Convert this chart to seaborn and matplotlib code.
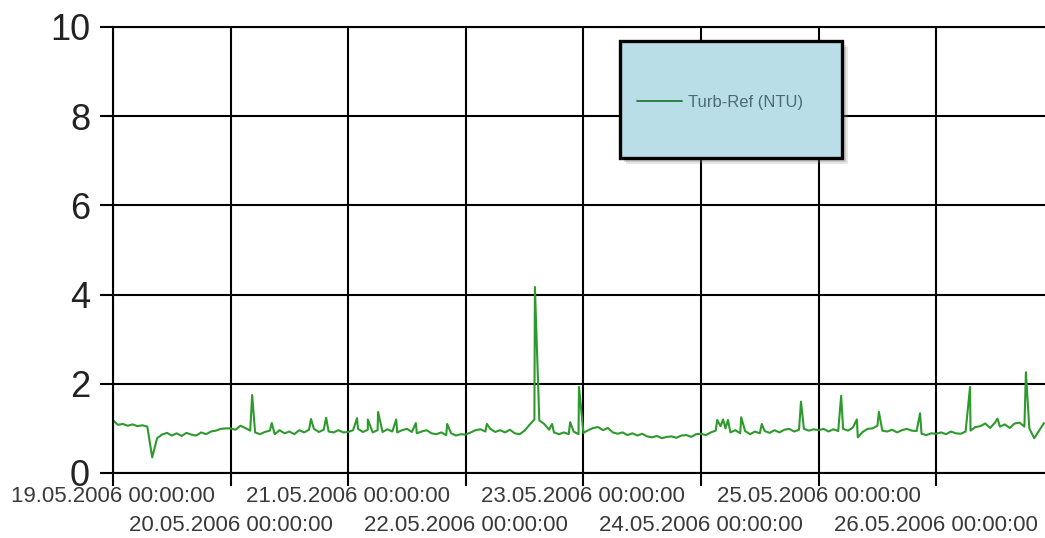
import numpy as np
import pandas as pd
import matplotlib
matplotlib.use("Agg")
import matplotlib.pyplot as plt
import matplotlib.dates as mdates
from matplotlib.patches import Rectangle
import seaborn as sns

# ---------------- data ----------------
start_time = "2006-05-19 00:00:00"
series_name = "Turb-Ref (NTU)"

# hourly base readings (NTU), hour 0 .. 190
base_day1 = [1.18, 1.08, 1.10, 1.06, 1.09, 1.05, 1.07, 1.04, 0.35, 0.78, 0.86, 0.90,
             0.84, 0.89, 0.83, 0.90, 0.86, 0.84, 0.91, 0.87, 0.93, 0.95, 0.99, 1.00]
base_day2 = [1.00, 0.97, 1.06, 1.01, 0.95, 0.91, 0.87, 0.92, 0.95, 0.87, 0.96, 0.89,
             0.93, 0.87, 0.96, 0.91, 0.97, 0.99, 0.92, 0.97, 0.93, 0.91, 0.96, 0.91]
base_day3 = [0.92, 0.96, 0.99, 0.92, 0.97, 0.91, 0.96, 0.92, 0.98, 0.93, 0.91, 0.96,
             0.99, 0.92, 0.89, 0.93, 0.96, 0.89, 0.87, 0.91, 0.85, 0.89, 0.84, 0.87]
base_day4 = [0.86, 0.91, 0.96, 0.98, 0.93, 0.99, 0.92, 0.96, 0.91, 0.97, 0.89, 0.87,
             0.95, 1.08, 1.20, 1.18, 1.10, 0.97, 0.91, 0.87, 0.91, 0.87, 0.93, 0.87]
base_day5 = [0.90, 0.96, 1.01, 1.03, 0.96, 1.01, 0.91, 0.88, 0.91, 0.85, 0.89, 0.84,
             0.88, 0.82, 0.80, 0.83, 0.78, 0.81, 0.82, 0.79, 0.84, 0.85, 0.81, 0.87]
base_day6 = [0.88, 0.85, 0.91, 0.95, 1.05, 1.00, 0.91, 0.96, 0.89, 0.94, 0.87, 0.93,
             0.89, 0.94, 0.90, 0.96, 0.91, 0.97, 0.99, 0.93, 0.97, 0.99, 0.95, 0.98]
base_day7 = [0.96, 0.99, 0.93, 0.98, 0.94, 0.99, 0.95, 1.02, 0.80, 0.92, 0.99, 1.00,
             1.06, 0.95, 0.93, 0.97, 0.91, 0.96, 0.99, 0.95, 0.94, 0.88, 0.85, 0.89]
base_day8 = [0.88, 0.91, 0.87, 0.93, 0.89, 0.88, 0.93, 0.95, 1.03, 1.05, 1.11, 1.01,
             1.13, 1.04, 1.09, 1.01, 1.11, 1.13, 1.04, 1.00, 0.78, 0.95, 1.12]

# short spikes: hour offset from start and peak value
spike_hours = [28.4, 32.4, 40.4, 43.5, 49.8, 52.0, 54.1, 57.8, 61.8, 68.2, 76.3,
               86.1, 89.6, 93.3, 95.1, 123.3, 124.5, 125.5, 128.2, 132.4, 140.4,
               148.6, 151.8, 156.3, 164.7, 174.9, 180.5, 186.3]
spike_values = [1.75, 1.12, 1.21, 1.24, 1.23, 1.20, 1.37, 1.20, 1.12, 1.10, 1.10,
                4.17, 1.10, 1.14, 1.93, 1.19, 1.20, 1.19, 1.25, 1.10, 1.60,
                1.73, 1.20, 1.37, 1.34, 1.93, 1.22, 2.26]

day_ticks = ["2006-05-19", "2006-05-20", "2006-05-21", "2006-05-22",
             "2006-05-23", "2006-05-24", "2006-05-25", "2006-05-26"]
y_ticks = [0, 2, 4, 6, 8, 10]
x_end_hours = 190.2

# ---------------- assemble ----------------
base_values = (base_day1 + base_day2 + base_day3 + base_day4 +
               base_day5 + base_day6 + base_day7 + base_day8)
hours = list(range(len(base_values))) + spike_hours
values = base_values + spike_values
t0 = pd.Timestamp(start_time)
df = pd.DataFrame({"time": t0 + pd.to_timedelta(hours, unit="h"), "value": values})
df = df.sort_values("time").reset_index(drop=True)

# ---------------- figure ----------------
sns.set_style("white")
plt.rcParams["font.family"] = ["Liberation Sans", "DejaVu Sans"]

W, H = 1045, 538
fig = plt.figure(figsize=(W / 100, H / 100), dpi=100)
ax = fig.add_axes([113 / W, 65 / H, (W - 113) / W, 446 / H])

sns.lineplot(data=df, x="time", y="value", ax=ax, color="#2e9a2e",
             linewidth=1.5, estimator=None, legend=False)

ax.set_xlim(mdates.date2num(t0), mdates.date2num(t0 + pd.Timedelta(hours=x_end_hours)))
ax.set_ylim(0, 10)
ax.set_xlabel("")
ax.set_ylabel("")

fmt = "%d.%m.%Y %H:%M:%S"
major_days = day_ticks[0::2]
minor_days = day_ticks[1::2]
ax.set_xticks([mdates.date2num(pd.Timestamp(d)) for d in major_days])
ax.set_xticklabels([pd.Timestamp(d).strftime(fmt) for d in major_days],
                   fontsize=16, color="#3a3a3a")
ax.set_xticks([mdates.date2num(pd.Timestamp(d)) for d in minor_days], minor=True)
ax.set_xticklabels([pd.Timestamp(d).strftime(fmt) for d in minor_days], minor=True,
                   fontsize=16, color="#3a3a3a")
ax.set_yticks(y_ticks)
ax.set_yticklabels([str(v) for v in y_ticks], fontsize=26, color="#222222")

ax.grid(True, which="both", color="black", linewidth=1.5)
ax.set_axisbelow(True)
ax.tick_params(axis="x", which="major", length=9, width=1.5, color="black", pad=0.5, bottom=True)
ax.tick_params(axis="x", which="minor", length=9, width=1.5, color="black", pad=21.5, bottom=True)
ax.tick_params(axis="y", length=9.5, width=1.5, color="black", pad=7, left=True)
ax.spines["right"].set_visible(False)
for side in ["left", "bottom", "top"]:
    ax.spines[side].set_color("black")
    ax.spines[side].set_linewidth(1.5)

# ---------------- legend box ----------------
bx0, by0, bx1, by1 = 620, 41, 842, 158
for off, a in [(6, 0.18), (4, 0.25), (2, 0.3)]:
    fig.patches.append(Rectangle(((bx0 + off) / W, (H - by1 - off) / H),
                                 (bx1 - bx0) / W, (by1 - by0) / H,
                                 transform=fig.transFigure, facecolor="#707070",
                                 edgecolor="none", alpha=a, zorder=5))
fig.patches.append(Rectangle((bx0 / W, (H - by1) / H), (bx1 - bx0) / W, (by1 - by0) / H,
                             transform=fig.transFigure, facecolor="#b9dee8",
                             edgecolor="black", linewidth=2.4, zorder=6))

handle = plt.Line2D([], [], color="#1f7a3a", linewidth=1.3)
leg = fig.legend([handle], [series_name], loc="center left",
                 bbox_to_anchor=(629 / W, (H - 102) / H), frameon=False,
                 borderpad=0, handlelength=2.7, handletextpad=0.35,
                 prop={"family": "Liberation Sans", "size": 12})
leg.set_zorder(7)
for t in leg.get_texts():
    t.set_color("#4d6a76")

fig.savefig("out.png", dpi=100)
